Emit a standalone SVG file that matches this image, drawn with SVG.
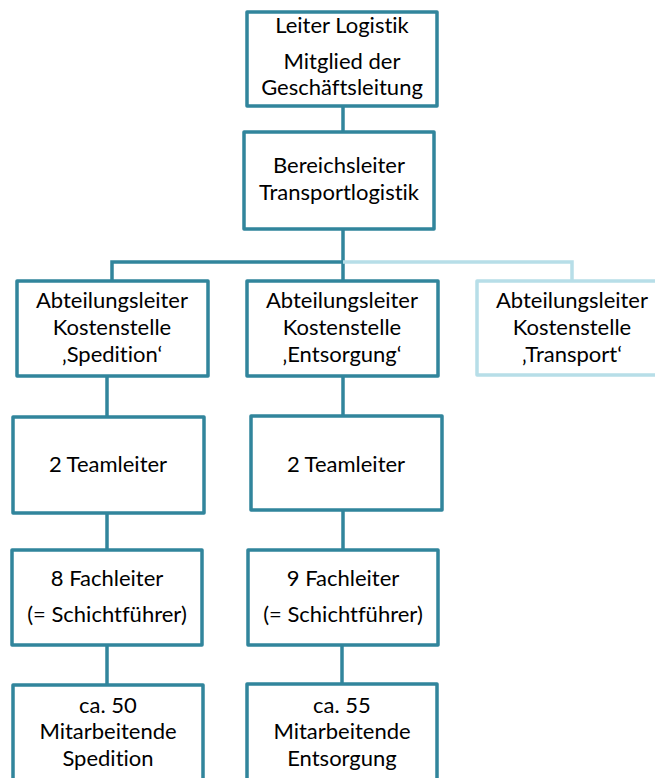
<svg xmlns="http://www.w3.org/2000/svg" width="655" height="778" viewBox="0 0 655 778">
<style>
.box{fill:#fff;stroke:#31859c;stroke-width:3.5;stroke-linejoin:round}
.lbox{fill:#fff;stroke:#b7dee8;stroke-width:3.5;stroke-linejoin:round}
.ln{fill:none;stroke:#31859c;stroke-width:3.5}
.lln{fill:none;stroke:#b7dee8;stroke-width:3.5}
text{font-family:Lato,"Liberation Sans",sans-serif;font-size:22px;fill:#000;text-anchor:middle;font-variant-ligatures:none;font-feature-settings:"liga" 0,"dlig" 0}
</style>
<rect width="655" height="778" fill="#fff"/>
<g id="connectors">
<line class="ln" x1="343" y1="106" x2="343" y2="132"/>
<line class="ln" x1="343" y1="229" x2="343" y2="281"/>
<polyline class="lln" points="343,262 572,262 572,281"/>
<polyline class="ln" points="343,262 112,262 112,281"/>
<line class="ln" x1="107" y1="376" x2="107" y2="417"/>
<line class="ln" x1="343" y1="376" x2="343" y2="416"/>
<line class="ln" x1="107" y1="513" x2="107" y2="550"/>
<line class="ln" x1="343" y1="510" x2="343" y2="550"/>
<line class="ln" x1="107" y1="645" x2="107" y2="685"/>
<line class="ln" x1="342" y1="645" x2="342" y2="684"/>
</g>
<g id="leiter-logistik">
<rect class="box" x="247" y="12" width="190" height="94"/>
<text x="342" y="33">Leiter Logistik</text>
<text x="342" y="69">Mitglied der</text>
<text x="342" y="95">Geschäftsleitung</text>
</g>
<g id="bereichsleiter">
<rect class="box" x="244" y="132" width="190" height="97"/>
<text x="339" y="173">Bereichsleiter</text>
<text x="339" y="200">Transportlogistik</text>
</g>
<g id="al-spedition">
<rect class="box" x="17" y="281" width="191" height="95"/>
<text x="112" y="308">Abteilungsleiter</text>
<text x="112" y="335">Kostenstelle</text>
<text x="112" y="362">‚Spedition‘</text>
</g>
<g id="al-entsorgung">
<rect class="box" x="247" y="281" width="191" height="95"/>
<text x="342" y="308">Abteilungsleiter</text>
<text x="342" y="335">Kostenstelle</text>
<text x="342" y="362">‚Entsorgung‘</text>
</g>
<g id="al-transport">
<rect class="lbox" x="477" y="281" width="191" height="94"/>
<text x="572" y="308">Abteilungsleiter</text>
<text x="572" y="335">Kostenstelle</text>
<text x="572" y="362">‚Transport‘</text>
</g>
<g id="tl-spedition">
<rect class="box" x="13" y="417" width="191" height="96"/>
<text x="108" y="472">2 Teamleiter</text>
</g>
<g id="tl-entsorgung">
<rect class="box" x="251" y="416" width="191" height="94"/>
<text x="346" y="472">2 Teamleiter</text>
</g>
<g id="fl-spedition">
<rect class="box" x="12" y="550" width="190" height="95"/>
<text x="107" y="586">8 Fachleiter</text>
<text x="107" y="622">(= Schichtführer)</text>
</g>
<g id="fl-entsorgung">
<rect class="box" x="248" y="550" width="190" height="95"/>
<text x="343" y="586">9 Fachleiter</text>
<text x="343" y="622">(= Schichtführer)</text>
</g>
<g id="ma-spedition">
<rect class="box" x="13" y="685" width="190" height="110"/>
<text x="108" y="713">ca. 50</text>
<text x="108" y="739">Mitarbeitende</text>
<text x="108" y="766">Spedition</text>
</g>
<g id="ma-entsorgung">
<rect class="box" x="247" y="684" width="190" height="110"/>
<text x="342" y="713">ca. 55</text>
<text x="342" y="739">Mitarbeitende</text>
<text x="342" y="766">Entsorgung</text>
</g>
</svg>
